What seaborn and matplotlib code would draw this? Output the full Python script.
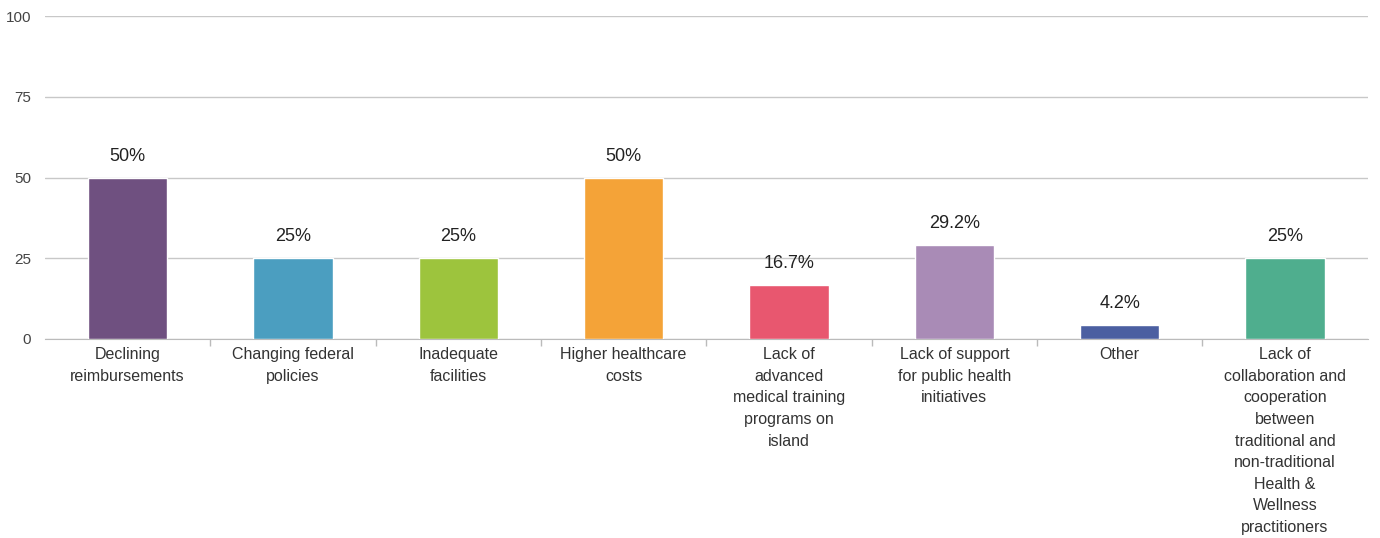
import matplotlib
matplotlib.use("Agg")
import matplotlib.pyplot as plt
import numpy as np
import pandas as pd
import seaborn as sns

categories = [
    "Declining\nreimbursements",
    "Changing federal\npolicies",
    "Inadequate\nfacilities",
    "Higher healthcare\ncosts",
    "Lack of\nadvanced\nmedical training\nprograms on\nisland",
    "Lack of support\nfor public health\ninitiatives",
    "Other",
    "Lack of\ncollaboration and\ncooperation\nbetween\ntraditional and\nnon-traditional\nHealth &\nWellness\npractitioners",
]
values = [50, 25, 25, 50, 16.7, 29.2, 4.2, 25]
value_labels = ["50%", "25%", "25%", "50%", "16.7%", "29.2%", "4.2%", "25%"]
colors = ["#6f5080", "#4b9ec0", "#9dc43d", "#f4a338", "#e8576f", "#a98bb6", "#4b5fa1", "#4fae8e"]
y_ticks = [0, 25, 50, 75, 100]

sns.set_style("white")
plt.rcParams["font.family"] = ["Liberation Sans", "DejaVu Sans"]

df = pd.DataFrame({"category": categories, "value": values})

fig = plt.figure(figsize=(13.8, 5.38), dpi=100)
ax = fig.add_axes([0.0326, 0.37, 0.9585, 0.60])

sns.barplot(data=df, x="category", y="value", hue="category", palette=colors,
            legend=False, width=0.48, saturation=1, ax=ax, zorder=3)

for i, (v, lab) in enumerate(zip(values, value_labels)):
    ax.text(i, v + 4, lab, ha="center", va="bottom", fontsize=13, color="#222222")

ax.set_ylim(0, 100)
ax.set_xlim(-0.5, len(categories) - 0.5)
ax.set_yticks(y_ticks)
ax.set_yticklabels([str(t) for t in y_ticks], fontsize=11, color="#444444")
ax.yaxis.grid(True, color="#c8c8c8", linewidth=1)
ax.set_axisbelow(True)
ax.set_xlabel("")
ax.set_ylabel("")
ax.tick_params(axis="y", length=0, pad=10)
ax.tick_params(axis="x", length=0, pad=6, labelsize=11.5, labelcolor="#333333")
for lbl in ax.get_xticklabels():
    lbl.set_linespacing(1.55)
ax.set_xticks(np.arange(0.5, len(categories) - 0.5), minor=True)
ax.tick_params(axis="x", which="minor", bottom=True, length=5, width=1, color="#bbbbbb")

for side in ["top", "right", "left"]:
    ax.spines[side].set_visible(False)
ax.spines["bottom"].set_color("#bbbbbb")

fig.savefig("out.png", dpi=100)
